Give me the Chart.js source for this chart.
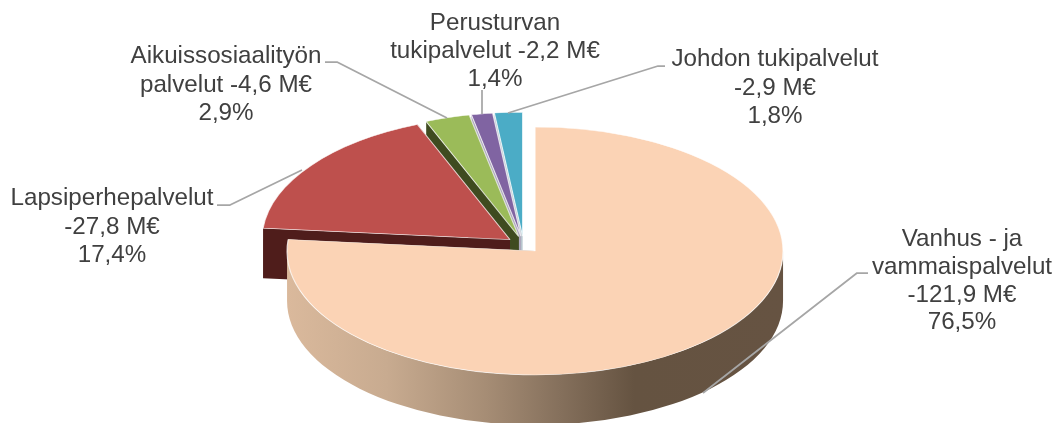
<!DOCTYPE html>
<html>
<head>
<meta charset="utf-8">
<style>html,body{margin:0;padding:0;background:#fff}canvas{display:block}</style>
<script src="https://cdn.jsdelivr.net/npm/chart.js@4"></script>
</head>
<body>
<canvas id="c" width="1057" height="423"></canvas>
<script>
const categories = ["Vanhus - ja vammaispalvelut","Lapsiperhepalvelut","Aikuissosiaalityön palvelut","Perusturvan tukipalvelut","Johdon tukipalvelut"];
const valuesMEur = [121.9, 27.8, 4.6, 2.2, 2.9];
const topColors = ["#FBD3B5","#BE504D","#9BBB59","#8064A2","#4BACC6"];
const wallColors = [null,"#4F1D1B","#3F4B20","#AEA8BE","#B8C6CE"];
const labelLines = [
  ["Vanhus - ja","vammaispalvelut","-121,9 M€","76,5%"],
  ["Lapsiperhepalvelut","-27,8 M€","17,4%"],
  ["Aikuissosiaalityön","palvelut -4,6 M€","2,9%"],
  ["Perusturvan","tukipalvelut -2,2 M€","1,4%"],
  ["Johdon tukipalvelut","-2,9 M€","1,8%"]
];
const labelPos = [
  {x:962,y:246,lh:27.8},{x:112,y:205,lh:28.5},{x:226,y:63,lh:28.5},{x:495,y:30,lh:28},{x:775,y:66,lh:28.7}
];
const leaders = [
  [[868,273],[857,273],[703,393]],
  [[217,205],[230,205],[302,170]],
  [[325,62],[337,62],[447,118]],
  [[482,90],[482,114]],
  [[665,66],[658,66],[508,113]]
];
const view = {cx:523.6, cy:244.7, rx:248, ry:124, depth:50, explode:0.0685};

function applyView(chart, ctx){
  const a = chart.getDatasetMeta(0).data[0];
  const R = a.outerRadius;
  ctx.translate(view.cx, view.cy);
  ctx.scale(view.rx/R, view.ry/R);
  ctx.translate(-a.x, -a.y);
}
function explodeOf(a){
  const mid=(a.startAngle+a.endAngle)/2, d=view.explode*a.outerRadius;
  return [Math.cos(mid)*d, Math.sin(mid)*d];
}
const pie3d = {
  id:'pie3d',
  beforeDatasetsDraw(chart){
    const ctx = chart.ctx, arcs = chart.getDatasetMeta(0).data;
    const R = arcs[0].outerRadius, dz = view.depth*R/view.ry;
    ctx.save();
    applyView(chart, ctx);
    for(let i=arcs.length-1;i>=0;i--){
      const a = arcs[i], d=explodeOf(a);
      const x=a.x+d[0], y=a.y+d[1];
      let fill = wallColors[i];
      if(!fill){
        const g = ctx.createLinearGradient(x-R,0,x+R,0);
        g.addColorStop(0,"#DAB99C");
        g.addColorStop(0.2,"#C8AB90");
        g.addColorStop(0.4,"#A68D75");
        g.addColorStop(0.55,"#85705C");
        g.addColorStop(0.7,"#655341");
        g.addColorStop(1,"#665342");
        fill = g;
      }
      ctx.fillStyle = fill;
      // radial cut faces
      [a.startAngle,a.endAngle].forEach(t=>{
        const ex=x+Math.cos(t)*R, ey=y+Math.sin(t)*R;
        ctx.beginPath();ctx.moveTo(x,y);ctx.lineTo(ex,ey);ctx.lineTo(ex,ey+dz);ctx.lineTo(x,y+dz);ctx.closePath();ctx.fill();
      });
      // outer wall: only the front half of the rim is visible
      const s=Math.max(a.startAngle,0), e=Math.min(a.endAngle,Math.PI);
      if(e>s){
        ctx.beginPath();ctx.arc(x,y,R,s,e);ctx.arc(x,y+dz,R,e,s,true);ctx.closePath();ctx.fill();
      }
    }
    ctx.restore();
  },
  beforeDatasetDraw(chart){
    const ctx=chart.ctx;
    ctx.save();applyView(chart,ctx);
    chart.getDatasetMeta(0).data.forEach(a=>{
      const d=explodeOf(a);
      ctx.save();ctx.translate(d[0],d[1]);a.draw(ctx);ctx.restore();
    });
    ctx.restore();
    return false;
  },
  afterDraw(chart){
    const ctx=chart.ctx;
    ctx.save();
    ctx.strokeStyle="#A6A6A6";ctx.lineWidth=1.75;ctx.lineJoin="round";
    leaders.forEach(l=>{ctx.beginPath();l.forEach((p,i)=>i?ctx.lineTo(p[0],p[1]):ctx.moveTo(p[0],p[1]));ctx.stroke();});
    ctx.fillStyle="#404040";ctx.font='24.2px "Liberation Sans", Arial, sans-serif';ctx.textAlign="center";ctx.textBaseline="alphabetic";
    labelLines.forEach((ls,i)=>{const p=labelPos[i];ls.forEach((t,k)=>ctx.fillText(t,p.x,p.y+k*p.lh));});
    ctx.restore();
  }
};
new Chart(document.getElementById('c'),{
  type:'pie',
  data:{labels:categories,datasets:[{data:valuesMEur,backgroundColor:topColors,borderColor:"rgba(255,255,255,0.75)",borderWidth:1,hoverOffset:0}]},
  options:{responsive:false,animation:false,events:[],layout:{padding:0},plugins:{legend:{display:false},tooltip:{enabled:false},title:{display:false}}},
  plugins:[pie3d]
});
</script>
</body>
</html>
